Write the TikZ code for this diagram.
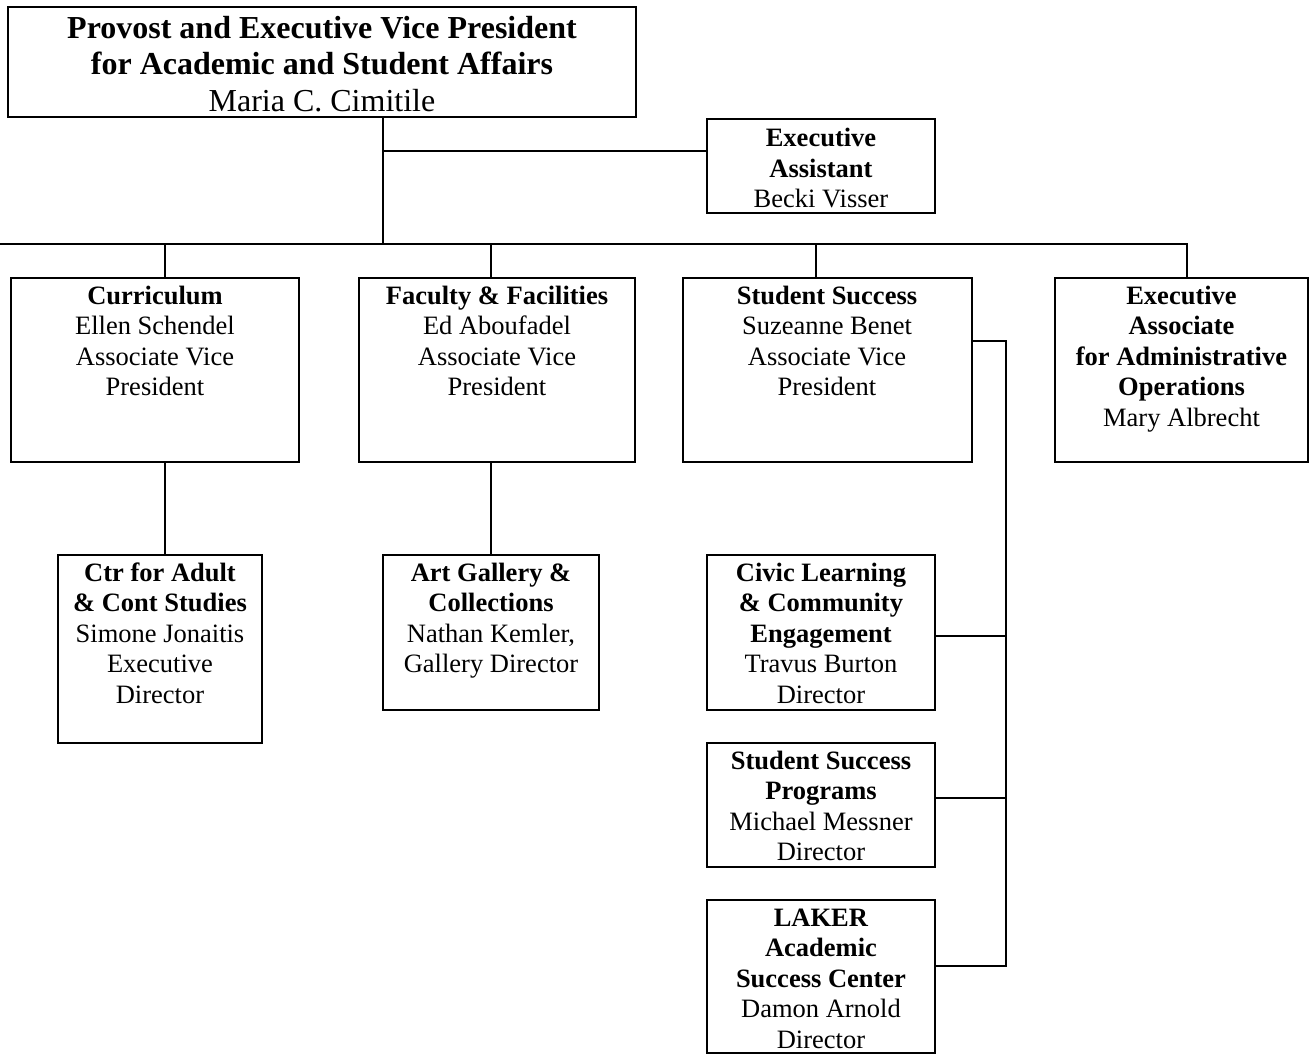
\documentclass[tikz,border=0pt]{standalone}
\usepackage{fontspec}
\setmainfont{Liberation Serif}
\usetikzlibrary{calc}
\usetikzlibrary{positioning}
\tikzstyle{unit} = [draw=black, line width=1pt, inner sep=0pt,
align=center, font=\fontsize{13.25}{15.33}\selectfont]
\tikzstyle{link} = [line width=1pt]
% box text: [first baseline], width, height, lines (top aligned)
\newcommand{\unitbox}[4][13pt]{\parbox[c][#3][t]{#2}{\centering\rule{0pt}{#1}#4}}

\begin{document}
\begin{tikzpicture}[x=0.5pt, y=-0.5pt] % pixel-like grid
\useasboundingbox (0,0) rectangle (1314,1055);

% provost
\node[unit, font=\fontsize{16}{18.25}\selectfont] (top) at (322,62)
  {\unitbox[15.5pt]{314pt}{55pt}{\textbf{Provost and Executive Vice President}\\ \textbf{for Academic and Student Affairs}\\ Maria C. Cimitile}};
\node[unit] (ea) at (821,166)
  {\unitbox[13.75pt]{114pt}{47pt}{\textbf{Executive}\\ \textbf{Assistant}\\ Becki Visser}};

% second row
\node[unit] (curr) at (155,370) {\unitbox{144pt}{92pt}{\textbf{Curriculum}\\ Ellen Schendel\\ Associate Vice\\ President}};
\node[unit] (fac) at (497,370) {\unitbox{138pt}{92pt}{\textbf{Faculty \& Facilities}\\ Ed Aboufadel\\ Associate Vice\\ President}};
\node[unit] (ss) at (827,370) {\unitbox{144.5pt}{92pt}{\textbf{Student Success}\\ Suzeanne Benet\\ Associate Vice\\ President}};
\node[unit] (eaa) at (1181.5,370) {\unitbox{126.5pt}{92pt}{\textbf{Executive}\\ \textbf{Associate}\\ \textbf{for Administrative}\\ \textbf{Operations}\\ Mary Albrecht}};

% third level
\node[unit] (ctr) at (160,649) {\unitbox{102pt}{94pt}{\textbf{Ctr for Adult}\\ \textbf{\& Cont Studies}\\ Simone Jonaitis\\ Executive\\ Director}};
\node[unit] (art) at (491,632.5) {\unitbox{108pt}{77.5pt}{\textbf{Art Gallery \&}\\ \textbf{Collections}\\ Nathan Kemler,\\ Gallery Director}};
\node[unit] (civic) at (821,632.5) {\unitbox{114pt}{77.5pt}{\textbf{Civic Learning}\\ \textbf{\& Community}\\ \textbf{Engagement}\\ Travus Burton\\ Director}};
\node[unit] (ssp) at (821,805) {\unitbox{114pt}{62pt}{\textbf{Student Success}\\ \textbf{Programs}\\ Michael Messner\\ Director}};
\node[unit] (laker) at (821,976.5) {\unitbox{114pt}{76.5pt}{\textbf{LAKER}\\ \textbf{Academic}\\ \textbf{Success Center}\\ Damon Arnold\\ Director}};

% connectors
\coordinate (bus) at (383,244);
\coordinate (busend) at (0,244);
\coordinate (side) at (1006,341);
\draw[link] (top.south -| bus) -- (bus);
\draw[link] ([yshift=7.5pt]ea.west) -- ([yshift=7.5pt]ea.west -| bus);
\draw[link] (busend) -| ([xshift=2.75pt]eaa.north);
\foreach \n/\dx in {curr/5pt, fac/-3pt, ss/-5.75pt}
  \draw[link] ([xshift=\dx]\n.north) -- ([xshift=\dx]\n.north |- bus);
\draw[link] ([xshift=5pt]curr.south) -- ([xshift=5pt]curr.south |- ctr.north);
\draw[link] ([xshift=-3pt]fac.south) -- (art.north);
\draw[link] ([yshift=14.5pt]ss.east) -- (side) |- ([yshift=5.25pt]laker.east);
\draw[link] ([yshift=-1.75pt]civic.east) -- ([yshift=-1.75pt]civic.east -| side);
\draw[link] ([yshift=3.5pt]ssp.east) -- ([yshift=3.5pt]ssp.east -| side);
\end{tikzpicture}
\end{document}
